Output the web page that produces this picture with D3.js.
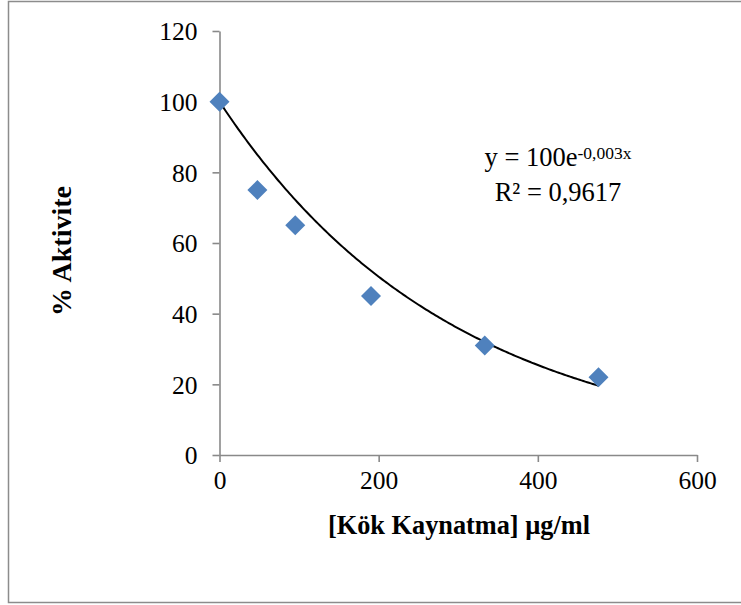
<!DOCTYPE html>
<html>
<head>
<meta charset="utf-8">
<script src="https://cdn.jsdelivr.net/npm/d3@7"></script>
<style>
  html, body { margin: 0; padding: 0; background: #fff; }
  svg { display: block; }
  text { font-family: "Liberation Serif", "Times New Roman", serif; fill: #000; }
</style>
</head>
<body>
<svg id="chart" width="741" height="605"></svg>
<script>
// Concentration of root decoction (µg/ml) and remaining activity (%)
const concentrations = [0, 47.6, 95.2, 190.4, 333.3, 476.2];
const activity = [100, 75, 65, 45, 31, 22];
const xTicks = [0, 200, 400, 600];
const yTicks = [0, 20, 40, 60, 80, 100, 120];
const equationMain = "y = 100e";
const equationExp = "-0,003x";
const rSquaredLabel = "R² = 0,9617";
const xTitle = "[Kök Kaynatma] µg/ml";
const yTitle = "% Aktivite";

const svg = d3.select("#chart");
const W = 741, H = 605;

// outer chart frame
svg.append("rect")
  .attr("x", 8.5).attr("y", 1.5)
  .attr("width", W + 10).attr("height", 601)
  .attr("fill", "#fff").attr("stroke", "#8c8c8c").attr("stroke-width", 1.5);

const x = d3.scaleLinear().domain([0, 600]).range([219.5, 697]);
const y = d3.scaleLinear().domain([0, 120]).range([455, 31]);

const axisColor = "#898989";

// x axis
const gx = svg.append("g").attr("transform", `translate(0,${y(0)})`)
  .call(d3.axisBottom(x).tickValues(xTicks).tickSize(7).tickPadding(9).tickSizeOuter(0));
gx.select(".domain").attr("stroke", axisColor).attr("stroke-width", 1.6);
gx.selectAll(".tick line").attr("stroke", axisColor).attr("stroke-width", 1.6);
gx.selectAll(".tick text").attr("font-size", 25.5).attr("font-family", "Liberation Serif").attr("fill", "#000").attr("dy", "0.72em");

// y axis
const gy = svg.append("g").attr("transform", `translate(${x(0)},0)`)
  .call(d3.axisLeft(y).tickValues(yTicks).tickSize(7).tickPadding(15).tickSizeOuter(0));
gy.select(".domain").attr("stroke", axisColor).attr("stroke-width", 1.6);
gy.selectAll(".tick line").attr("stroke", axisColor).attr("stroke-width", 1.6);
gy.selectAll(".tick text").attr("font-size", 25.5).attr("font-family", "Liberation Serif").attr("fill", "#000").attr("dy", "0.34em");

// exponential trendline y = a·e^(b·x) with a fixed at 100 (log-linear least squares)
const a = 100;
let sxy = 0, sxx = 0;
concentrations.forEach((c, i) => {
  sxy += c * (Math.log(activity[i]) - Math.log(a));
  sxx += c * c;
});
const b = sxy / sxx;
const xMax = d3.max(concentrations);
const curvePts = d3.range(0, 201).map(k => {
  const c = xMax * k / 200;
  return [c, a * Math.exp(b * c)];
});
svg.append("path")
  .datum(curvePts)
  .attr("fill", "none")
  .attr("stroke", "#000")
  .attr("stroke-width", 2)
  .attr("d", d3.line().x(d => x(d[0])).y(d => y(d[1])));

// data markers (diamonds)
const diamond = d3.symbol().type(d3.symbolSquare).size(200);
svg.append("g").selectAll("path")
  .data(concentrations.map((c, i) => [c, activity[i]]))
  .join("path")
  .attr("d", diamond)
  .attr("transform", d => `translate(${x(d[0])},${y(d[1])}) rotate(45)`)
  .attr("fill", "#4f81bd");

// trendline equation
const eq = svg.append("text")
  .attr("x", 558).attr("y", 166)
  .attr("text-anchor", "middle")
  .attr("font-size", 26.5);
eq.append("tspan").text(equationMain);
eq.append("tspan").attr("font-size", 17.5).attr("dy", -7).text(equationExp);

svg.append("text")
  .attr("x", 558).attr("y", 201)
  .attr("text-anchor", "middle")
  .attr("font-size", 26.5)
  .text(rSquaredLabel);

// axis titles
svg.append("text")
  .attr("x", 459).attr("y", 534)
  .attr("text-anchor", "middle")
  .attr("font-size", 26.3).attr("font-weight", "bold")
  .text(xTitle);

svg.append("text")
  .attr("transform", "translate(71,251) rotate(-90)")
  .attr("text-anchor", "middle")
  .attr("font-size", 28).attr("font-weight", "bold")
  .text(yTitle);
</script>
</body>
</html>
